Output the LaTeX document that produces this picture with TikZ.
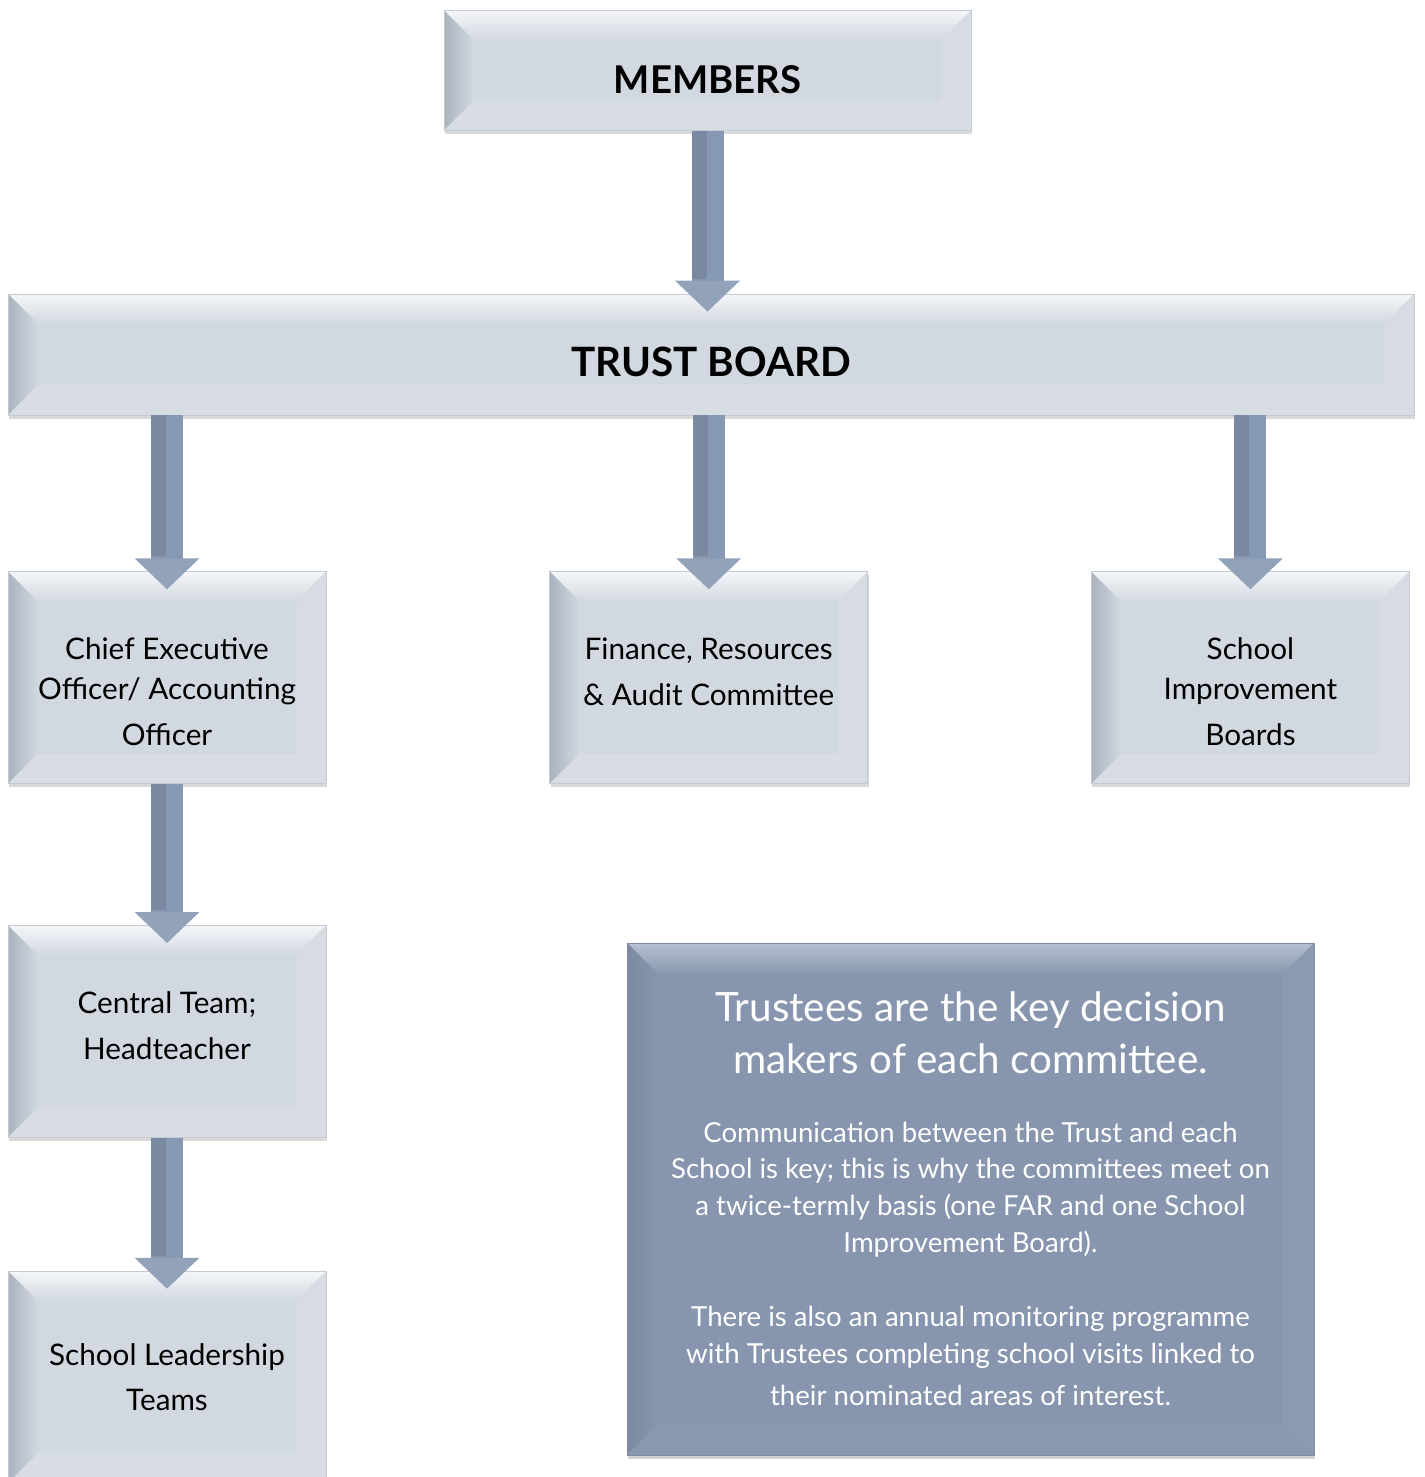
\documentclass[tikz,border=0pt]{standalone}
\usepackage{fontspec}
\setmainfont{Lato}
\usetikzlibrary{positioning,calc,shadows,arrows.meta}

\definecolor{tilefill}{HTML}{D2D8E0}
\definecolor{tiletop}{HTML}{F4F6F9}
\definecolor{tileleft}{HTML}{AAB3BF}
\definecolor{tileright}{HTML}{D7DCE3}
\definecolor{tilebottom}{HTML}{D8DDE4}
\definecolor{tileedge}{HTML}{C4CAD2}
\definecolor{notefill}{HTML}{8796AE}
\definecolor{notetop}{HTML}{B5C1D2}
\definecolor{noteleft}{HTML}{7C8BA3}
\definecolor{noteright}{HTML}{8C9AB1}
\definecolor{notebottom}{HTML}{8998AF}
\definecolor{flowcol}{HTML}{8799B2}
\definecolor{flowdark}{HTML}{7889A1}
\definecolor{flowtip}{HTML}{91A2B9}

% bevelled faces: top, left, right, bottom, inner colour, depth
\newcommand{\bevelfaces}[6]{%
  \coordinate (bnw) at (path picture bounding box.north west);
  \coordinate (bne) at (path picture bounding box.north east);
  \coordinate (bsw) at (path picture bounding box.south west);
  \coordinate (bse) at (path picture bounding box.south east);
  \shade[top color=#1, bottom color=#5] (bnw) -- (bne) -- ($(bne)+(-#6,-#6)$) -- ($(bnw)+(#6,-#6)$) -- cycle;
  \shade[left color=#2, right color=#5] (bnw) -- ($(bnw)+(#6,-#6)$) -- ($(bsw)+(#6,#6)$) -- (bsw) -- cycle;
  \fill[#3] (bne) -- (bse) -- ($(bse)+(-#6,#6)$) -- ($(bne)+(-#6,-#6)$) -- cycle;
  \fill[#4] (bsw) -- ($(bsw)+(#6,#6)$) -- ($(bse)+(-#6,#6)$) -- (bse) -- cycle;
}
% struts to nudge text down (\dn) or up (\up)
\newcommand{\dn}[1]{\rule{0pt}{#1}}
\newcommand{\up}[1]{\rule[-#1]{0pt}{#1}}

\tikzset{
  tile/.style={rectangle, fill=tilefill, draw=tileedge, line width=0.4pt,
    minimum width=6.36cm, minimum height=4.24cm, align=center,
    font=\fontsize{16.9}{26}\selectfont,
    drop shadow={shadow xshift=0.6pt, shadow yshift=-2pt, opacity=0.3},
    path picture={\bevelfaces{tiletop}{tileleft}{tileright}{tilebottom}{tilefill}{0.6cm}}},
  headfont/.style={font=\bfseries\fontsize{21.8}{26}\selectfont},
  note/.style={rectangle, fill=notefill, draw=noteleft, line width=0.4pt,
    minimum width=13.74cm, minimum height=10.24cm, align=center, text=white,
    font=\fontsize{15.7}{21}\selectfont,
    drop shadow={shadow xshift=0.6pt, shadow yshift=-2.5pt, opacity=0.35},
    path picture={\bevelfaces{notetop}{noteleft}{noteright}{notebottom}{notefill}{0.65cm}}},
  flow/.style={draw=flowcol, line width=0.64cm,
    -{Triangle[width=1.26cm,length=0.62cm,color=flowtip]}, shorten >=-0.36cm,
    postaction={draw=flowdark, line width=0.3cm, -, shorten >=0.3cm,
      transform canvas={xshift=-0.17cm}}}
}
\newcommand{\hd}{\fontsize{23}{26}\selectfont}

\begin{document}
\begin{tikzpicture}
\useasboundingbox (0,0) rectangle (28.48,-29.54);

% Board levels
\node[tile, headfont, minimum width=28.12cm, minimum height=2.42cm] (trust) at (14.22,-7.09) {\dn{0.9cm}\fontsize{23}{26}\selectfont TRUST BOARD};
\node[tile, headfont, minimum width=10.54cm, minimum height=2.4cm, above=3.26cm of trust, xshift=-0.07cm] (members) {\dn{0.93cm}MEMBERS};

% Committees
\node[tile, below right=3.12cm and 0cm of trust.south west] (ceo) {\dn{1.0cm}Chief Executive\\[-3pt]Officer/ Accounting\\Officer};
\node[tile, right=4.46cm of ceo] (far) {Finance, Resources\\\& Audit Committee\up{0.24cm}};
\node[tile, right=4.46cm of far] (sib) {\dn{1.0cm}School\\[-3pt]Improvement\\Boards};

% Operational line
\node[tile, below=2.82cm of ceo] (central) {Central Team;\\Headteacher\up{0.24cm}};
\node[tile, below=2.66cm of central] (slt) {School Leadership\\Teams};

% Note
\node[note] (info) at (19.41,-23.98) {\hd Trustees are the key decision\\[8.6pt]
  \hd makers of each committee.\\[17.7pt]
  Communication between the Trust and each\\
  School is key; this is why the committees meet on\\
  a twice-termly basis (one FAR and one School\\
  Improvement Board).\\[21pt]
  There is also an annual monitoring programme\\
  with Trustees completing school visits linked to\\[3pt]
  their nominated areas of interest.};

% Arrows
\draw[flow] (members.south) -- (members.south |- trust.north);
\draw[flow] (trust.south -| ceo.north) -- (ceo.north);
\draw[flow] (trust.south -| far.north) -- (far.north);
\draw[flow] (trust.south -| sib.north) -- (sib.north);
\draw[flow] (ceo) -- (central);
\draw[flow] (central) -- (slt);

\end{tikzpicture}
\end{document}
